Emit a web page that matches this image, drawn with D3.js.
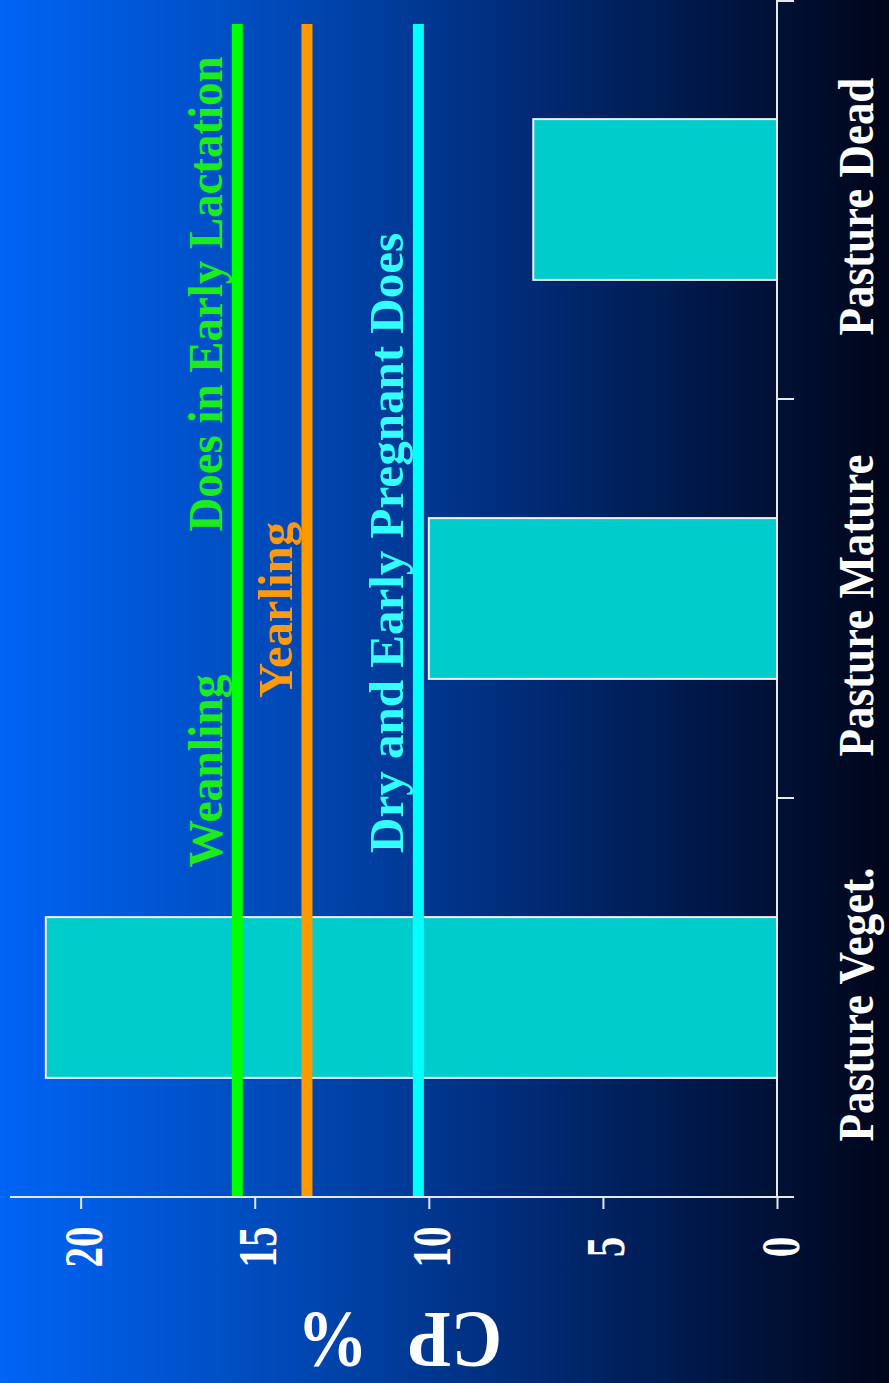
<!DOCTYPE html>
<html>
<head>
<meta charset="utf-8">
<script src="https://cdn.jsdelivr.net/npm/d3@7"></script>
<style>
  html, body { margin: 0; padding: 0; background: #000; }
  svg { display: block; }
  text { font-family: "Liberation Serif", "Times New Roman", serif; font-weight: bold; }
</style>
</head>
<body>
<div id="chart"></div>
<script>
// ---- data ----
const categories = ["Pasture Veget.", "Pasture Mature", "Pasture Dead"];
const cpValues = [21, 10, 7];
const requirementValues = [15.5, 13.5, 10.3];
const requirementColors = ["#00ff00", "#ff9900", "#00ffff"];
const requirementLabels = [["Weanling", "Does in Early Lactation"], ["Yearling"], ["Dry and Early Pregnant Does"]];
const valueTicks = [0, 5, 10, 15, 20];
const axisTitle = ["CP", "%"];

// ---- layout ----
const W = 889, H = 1383;
const svg = d3.select("#chart").append("svg").attr("width", W).attr("height", H);

const defs = svg.append("defs");
const grad = defs.append("linearGradient").attr("id", "bg").attr("x1", "0").attr("y1", "0").attr("x2", "1").attr("y2", "0");
[[0, "#0064f6"], [0.3, "#004bbb"], [0.6, "#002a74"], [0.85, "#00123a"], [1, "#00061a"]]
  .forEach(([o, c]) => grad.append("stop").attr("offset", o).attr("stop-color", c));
svg.append("rect").attr("width", W).attr("height", H).attr("fill", "url(#bg)");

const axisColor = "#e4e8ee";
const baseY = 1197;   // value axis line
const zeroX = 777;    // category axis line

// value scale runs horizontally (chart is rotated)
const xVal = d3.scaleLinear().domain([0, 22]).range([zeroX, 11]);
// category scale runs vertically, first category at the bottom
const yCat = d3.scaleBand().domain(categories).range([baseY, 0]).paddingInner(0).paddingOuter(0);
const barW = yCat.bandwidth() * 0.403;

// bars
svg.selectAll("rect.bar").data(categories).enter().append("rect")
  .attr("class", "bar")
  .attr("x", (d, i) => xVal(cpValues[i]))
  .attr("y", d => yCat(d) + yCat.bandwidth() / 2 - barW / 2)
  .attr("width", (d, i) => xVal(0) - xVal(cpValues[i]))
  .attr("height", barW)
  .attr("fill", "#00cccc")
  .attr("stroke", "#f0f0f0")
  .attr("stroke-width", 2);

// requirement lines
svg.selectAll("line.req").data(requirementValues).enter().append("line")
  .attr("class", "req")
  .attr("x1", d => xVal(d)).attr("x2", d => xVal(d))
  .attr("y1", 24).attr("y2", baseY)
  .attr("stroke", (d, i) => requirementColors[i])
  .attr("stroke-width", 11);

// requirement labels (centre along the line, length)
const labelLayout = [[[771, 193], [294, 475]], [[610, 176]], [[543, 620]]];
const labelColors = ["#1cec1c", "#ff9a10", "#33ffff"];
requirementLabels.forEach((labels, i) => {
  labels.forEach((t, j) => {
    const [cy, len] = labelLayout[i][j];
    svg.append("text")
      .attr("transform", `translate(${xVal(requirementValues[i]) - 15},${cy}) rotate(-90)`)
      .attr("text-anchor", "middle")
      .attr("font-size", 48)
      .attr("textLength", len)
      .attr("lengthAdjust", "spacingAndGlyphs")
      .attr("fill", labelColors[i])
      .text(t);
  });
});

// value axis
const gx = svg.append("g").attr("transform", `translate(0,${baseY})`)
  .call(d3.axisBottom(xVal).tickValues(valueTicks).tickSize(12).tickSizeOuter(0).tickFormat(d3.format("d")));
gx.select(".domain").remove();
gx.selectAll(".tick line").attr("stroke", axisColor).attr("stroke-width", 2);
gx.selectAll(".tick text")
  .attr("x", null).attr("y", null).attr("dy", null)
  .attr("transform", "translate(21,50) rotate(-90) scale(0.76,1)")
  .attr("text-anchor", "middle")
  .attr("font-size", 54)
  .attr("font-family", "Liberation Serif")
  .attr("font-weight", "bold")
  .attr("fill", "#ffffff");
svg.append("line")
  .attr("x1", xVal.range()[1] - 1).attr("x2", zeroX + 17)
  .attr("y1", baseY).attr("y2", baseY)
  .attr("stroke", axisColor).attr("stroke-width", 2);

// category axis
svg.append("line")
  .attr("x1", zeroX).attr("x2", zeroX).attr("y1", 0).attr("y2", baseY)
  .attr("stroke", axisColor).attr("stroke-width", 2);
const bounds = categories.map(d => yCat(d)).concat([yCat(categories[0]) + yCat.bandwidth()]);
svg.selectAll("line.ctick").data(bounds.filter(b => b < baseY - 1)).enter().append("line")
  .attr("class", "ctick")
  .attr("x1", zeroX).attr("x2", zeroX + 17)
  .attr("y1", d => Math.max(d, 1)).attr("y2", d => Math.max(d, 1))
  .attr("stroke", axisColor).attr("stroke-width", 2);

svg.selectAll("text.cat").data(categories).enter().append("text")
  .attr("class", "cat")
  .attr("transform", d => `translate(873,${yCat(d) + yCat.bandwidth() / 2 + 7}) rotate(-90) scale(0.9,1)`)
  .attr("text-anchor", "middle")
  .attr("font-size", 50)
  .attr("fill", "#ffffff")
  .text(d => d);

// axis title (upside down)
const titleX = [455, 333];
axisTitle.forEach((t, i) => {
  svg.append("text")
    .attr("transform", `translate(${titleX[i]},1313) rotate(180) scale(0.88,1)`)
    .attr("text-anchor", "middle")
    .attr("font-size", 80)
    .attr("fill", "#ffffff")
    .text(t);
});
</script>
</body>
</html>
